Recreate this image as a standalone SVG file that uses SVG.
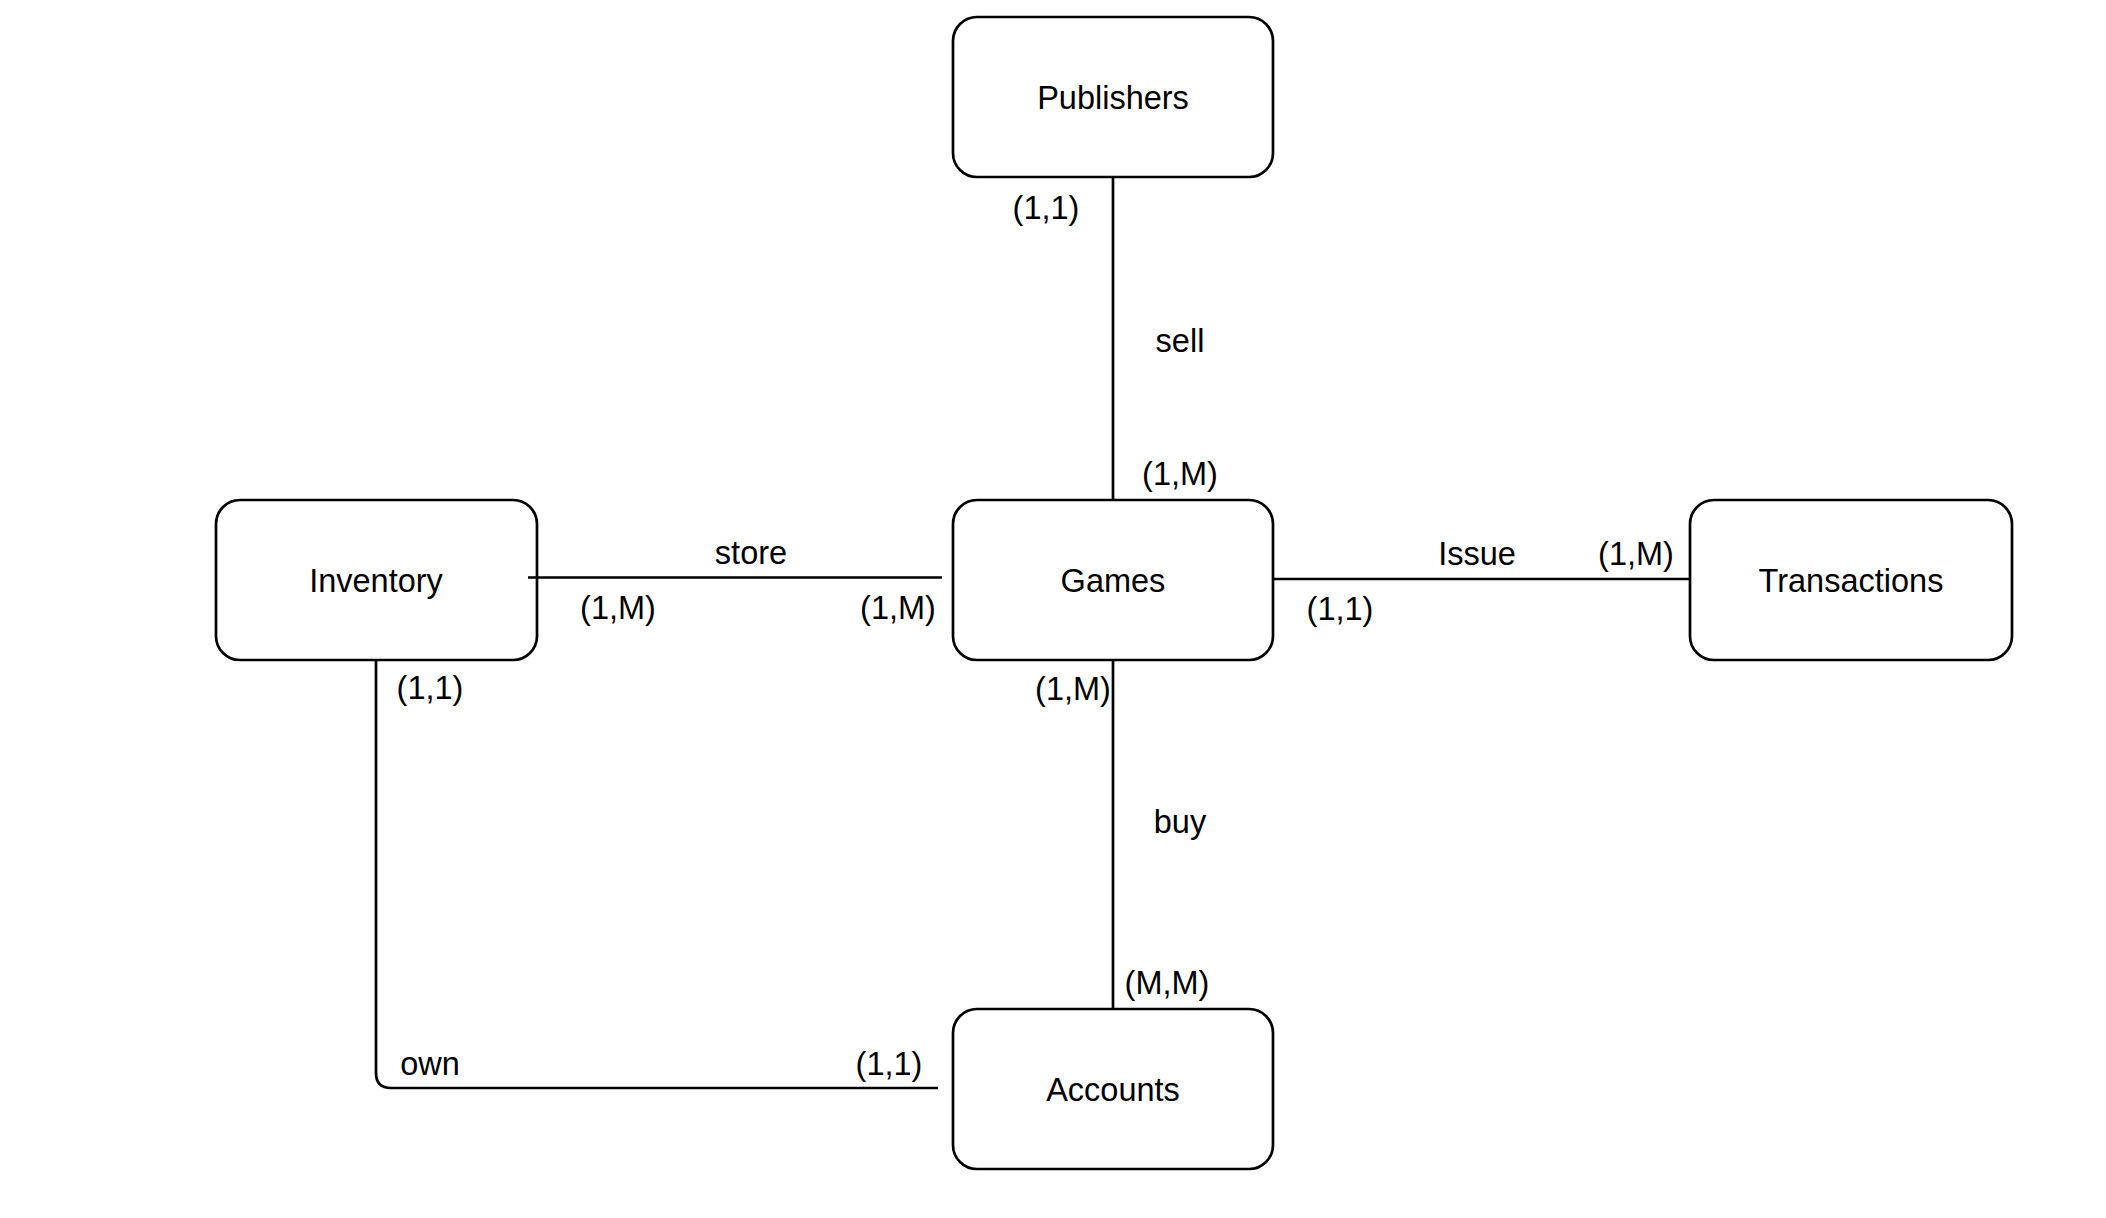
<svg xmlns="http://www.w3.org/2000/svg" width="2106" height="1218" viewBox="0 0 2106 1218">
<style>
.box{fill:#fff;stroke:#000;stroke-width:2.7}
.ln{fill:none;stroke:#000;stroke-width:2.7}
text{font-family:"Liberation Sans",Arial,sans-serif;font-size:32.5px;fill:#000;text-anchor:middle}
</style>
<rect width="2106" height="1218" fill="#fff"/>
<g id="publishers"><rect class="box" x="953" y="17" width="320" height="160" rx="24"/><text x="1113" y="109">Publishers</text></g>
<g id="games"><rect class="box" x="953" y="500" width="320" height="160" rx="24"/><text x="1113" y="592">Games</text></g>
<g id="inventory"><rect class="box" x="216" y="500" width="321" height="160" rx="24"/><text x="376" y="592">Inventory</text></g>
<g id="transactions"><rect class="box" x="1690" y="500" width="322" height="160" rx="24"/><text x="1851" y="592">Transactions</text></g>
<g id="accounts"><rect class="box" x="953" y="1009" width="320" height="160" rx="24"/><text x="1113" y="1101">Accounts</text></g>
<g id="connectors">
<path class="ln" d="M1113 177V500"/>
<path class="ln" d="M1113 660V1009"/>
<path class="ln" d="M528 577.5H942"/>
<path class="ln" d="M1273 579H1690"/>
<path class="ln" d="M376 660V1073Q376 1088 391 1088H938"/>
<text x="1046" y="219">(1,1)</text>
<text x="1180" y="352">sell</text>
<text x="1180" y="485">(1,M)</text>
<text x="751" y="564">store</text>
<text x="618" y="619">(1,M)</text>
<text x="898" y="619">(1,M)</text>
<text x="430" y="699">(1,1)</text>
<text x="1477" y="565">Issue</text>
<text x="1636" y="565">(1,M)</text>
<text x="1340" y="620">(1,1)</text>
<text x="1073" y="700">(1,M)</text>
<text x="1180" y="833">buy</text>
<text x="1167" y="994">(M,M)</text>
<text x="430" y="1075">own</text>
<text x="889" y="1075">(1,1)</text>
</g>
</svg>
